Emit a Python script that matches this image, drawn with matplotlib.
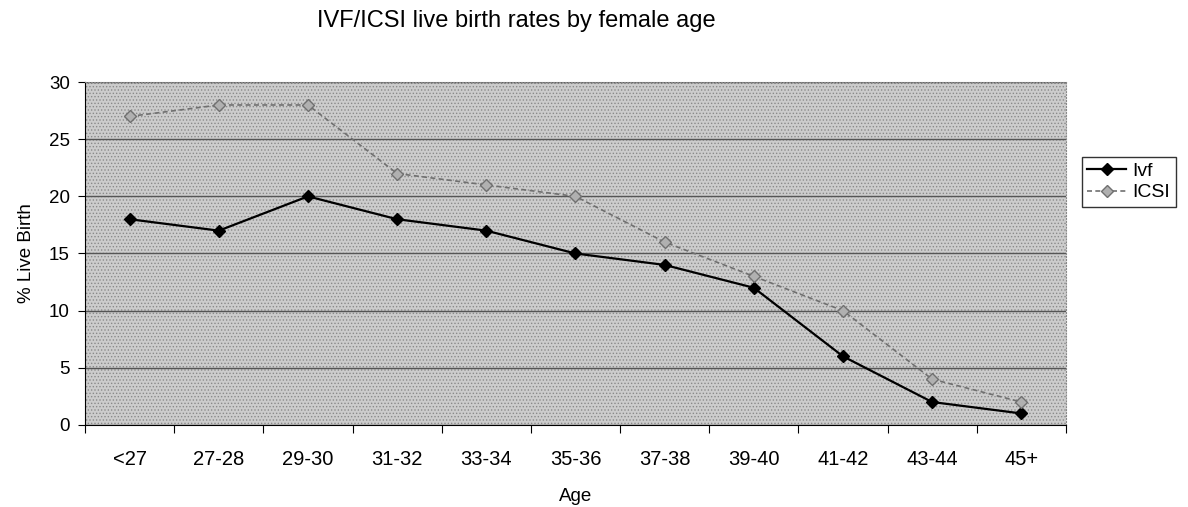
import matplotlib
matplotlib.use('Agg')
import matplotlib.pyplot as plt
from matplotlib.patches import Rectangle
import numpy as np

ages = ['<27', '27-28', '29-30', '31-32', '33-34', '35-36', '37-38', '39-40', '41-42', '43-44', '45+']
ivf = [18, 17, 20, 18, 17, 15, 14, 12, 6, 2, 1]
icsi = [27, 28, 28, 22, 21, 20, 16, 13, 10, 4, 2]

plt.rcParams['font.family'] = ['Liberation Sans', 'DejaVu Sans']
plt.rcParams['hatch.linewidth'] = 0.6

fig = plt.figure(figsize=(11.88, 5.07), dpi=100)
ax = fig.add_axes([0.0716, 0.162, 0.8256, 0.676])
ax.set_facecolor('#cccccc')
# dotted background like the old excel chart
ax.add_patch(Rectangle((0, 0), 1, 1, transform=ax.transAxes, facecolor='none',
                       edgecolor='#8a8a8a', hatch='.....', lw=0, zorder=0))

x = np.arange(len(ages))
ax.plot(x, ivf, color='black', lw=1.6, marker='D', ms=6, label='Ivf', zorder=3)
ax.plot(x, icsi, color='#707070', lw=1.2, ls=(0, (3, 2)), marker='D', ms=6,
        mfc='#b0b0b0', mec='#707070', label='ICSI', zorder=3)

ax.set_xlim(-0.5, len(ages) - 0.5)
ax.set_ylim(0, 30)
ax.set_yticks(range(0, 31, 5))
ax.yaxis.grid(True, color='#555555', lw=1, zorder=1)
ax.set_axisbelow(True)

ax.set_xticks(np.arange(-0.5, len(ages), 1))
ax.set_xticklabels([])
ax.set_xticks(x, minor=True)
ax.set_xticklabels(ages, minor=True)
ax.tick_params(axis='x', which='minor', length=0, pad=18, labelsize=14.5)
ax.tick_params(axis='x', which='major', length=6, direction='out')
ax.tick_params(axis='y', labelsize=13.5, length=5, pad=6, direction='out')

for s in ['top', 'right']:
    ax.spines[s].set_linestyle(':')
    ax.spines[s].set_color('#888888')
ax.spines['left'].set_color('black')
ax.spines['bottom'].set_color('black')

ax.set_xlabel('Age', fontsize=13.5, labelpad=14)
ax.set_ylabel('% Live Birth', fontsize=13.5, labelpad=10)
fig.suptitle('IVF/ICSI live birth rates by female age', fontsize=17, x=0.435, y=0.98)

leg = ax.legend(loc='upper left', bbox_to_anchor=(1.01, 0.80), fontsize=14,
                frameon=True, fancybox=False, handlelength=2.0, borderpad=0.3,
                handletextpad=0.3, labelspacing=0.2, borderaxespad=0.3)
leg.get_frame().set_edgecolor('black')

fig.savefig('out.png', dpi=100)
